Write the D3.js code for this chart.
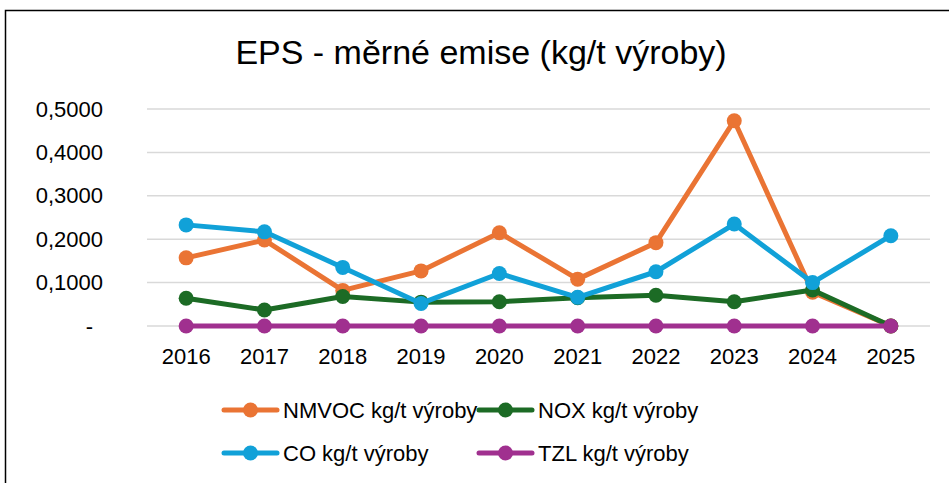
<!DOCTYPE html>
<html>
<head>
<meta charset="utf-8">
<script src="https://cdn.jsdelivr.net/npm/d3@7"></script>
<style>
  body { margin: 0; background: #fff; }
  svg { display: block; font-family: "Liberation Sans", Arial, sans-serif; }
</style>
</head>
<body>
<div id="container"></div>
<script>
// data
var years = ["2016", "2017", "2018", "2019", "2020", "2021", "2022", "2023", "2024", "2025"];
var nmvoc = [0.157, 0.198, 0.082, 0.127, 0.215, 0.108, 0.192, 0.473, 0.078, 0];
var nox = [0.064, 0.037, 0.068, 0.055, 0.056, 0.065, 0.071, 0.056, 0.083, 0];
var co = [0.233, 0.217, 0.135, 0.052, 0.121, 0.066, 0.125, 0.235, 0.100, 0.208];
var tzl = [0, 0, 0, 0, 0, 0, 0, 0, 0, 0];
var yTicks = [0, 0.1, 0.2, 0.3, 0.4, 0.5];

var seriesNames = ["NMVOC kg/t výroby", "NOX kg/t výroby", "CO kg/t výroby", "TZL kg/t výroby"];
var seriesColors = ["#ea7434", "#1c6b25", "#11a1d8", "#a0308f"];
var seriesValues = [nmvoc, nox, co, tzl];

var width = 949, height = 483;
var svg = d3.select("#container").append("svg")
  .attr("width", width)
  .attr("height", height);

// chart frame (right and bottom edges fall outside the window)
svg.append("rect")
  .attr("x", 5.5).attr("y", 10.5)
  .attr("width", 1000).attr("height", 600)
  .attr("fill", "none")
  .attr("stroke", "#000")
  .attr("stroke-width", 1.5);

svg.append("text")
  .attr("x", 481).attr("y", 64)
  .attr("text-anchor", "middle")
  .attr("font-size", 34)
  .attr("fill", "#000")
  .text("EPS - měrné emise (kg/t výroby)");

var xScale = d3.scaleBand().domain(years).range([147, 930]);
var yScale = d3.scaleLinear().domain([0, 0.5]).range([326, 109]);

// gridlines
svg.append("g")
  .selectAll("line")
  .data(yTicks)
  .enter()
  .append("line")
  .attr("x1", 147).attr("x2", 930)
  .attr("y1", (d) => yScale(d)).attr("y2", (d) => yScale(d))
  .attr("stroke", "#d9d9d9")
  .attr("stroke-width", 1.5);

var fmt = function (d) {
  if (d === 0) return "-";
  return d3.format(".4f")(d).replace(".", ",");
};

var yAxis = d3.axisLeft(yScale).tickValues(yTicks).tickFormat(fmt).tickSize(0).tickPadding(0);
svg.append("g")
  .attr("transform", "translate(103,0)")
  .call(yAxis)
  .call((g) => g.select(".domain").remove())
  .selectAll("text")
  .attr("font-size", 22)
  .attr("font-family", "Liberation Sans, Arial, sans-serif")
  .attr("fill", "#000")
  .attr("dx", (d) => (d === 0 ? -10 : 0));

var xAxis = d3.axisBottom(xScale).tickSize(0).tickPadding(0);
svg.append("g")
  .attr("transform", "translate(0,348)")
  .call(xAxis)
  .call((g) => g.select(".domain").remove())
  .selectAll("text")
  .attr("font-size", 22)
  .attr("font-family", "Liberation Sans, Arial, sans-serif")
  .attr("fill", "#000");

var line = d3.line()
  .x((d, i) => xScale(years[i]) + xScale.bandwidth() / 2)
  .y((d) => yScale(d));

seriesValues.forEach(function (vals, s) {
  var g = svg.append("g");
  g.append("path")
    .datum(vals)
    .attr("d", line)
    .attr("fill", "none")
    .attr("stroke", seriesColors[s])
    .attr("stroke-width", 5)
    .attr("stroke-linejoin", "round");
  g.selectAll("circle")
    .data(vals)
    .enter()
    .append("circle")
    .attr("cx", (d, i) => xScale(years[i]) + xScale.bandwidth() / 2)
    .attr("cy", (d) => yScale(d))
    .attr("r", 7.5)
    .attr("fill", seriesColors[s]);
});

// legend
var legendPos = [[224, 410], [479, 410], [224, 453], [479, 453]];
var legend = svg.append("g")
  .selectAll("g")
  .data(seriesNames)
  .enter()
  .append("g")
  .attr("transform", (d, i) => "translate(" + legendPos[i][0] + "," + legendPos[i][1] + ")");
legend.append("line")
  .attr("x1", 0).attr("x2", 53)
  .attr("stroke", (d, i) => seriesColors[i])
  .attr("stroke-width", 5)
  .attr("stroke-linecap", "round");
legend.append("circle")
  .attr("cx", 26.5)
  .attr("r", 7.5)
  .attr("fill", (d, i) => seriesColors[i]);
legend.append("text")
  .attr("x", 59)
  .attr("dy", "0.35em")
  .attr("font-size", 22)
  .attr("fill", "#000")
  .text((d) => d);
</script>
</body>
</html>
